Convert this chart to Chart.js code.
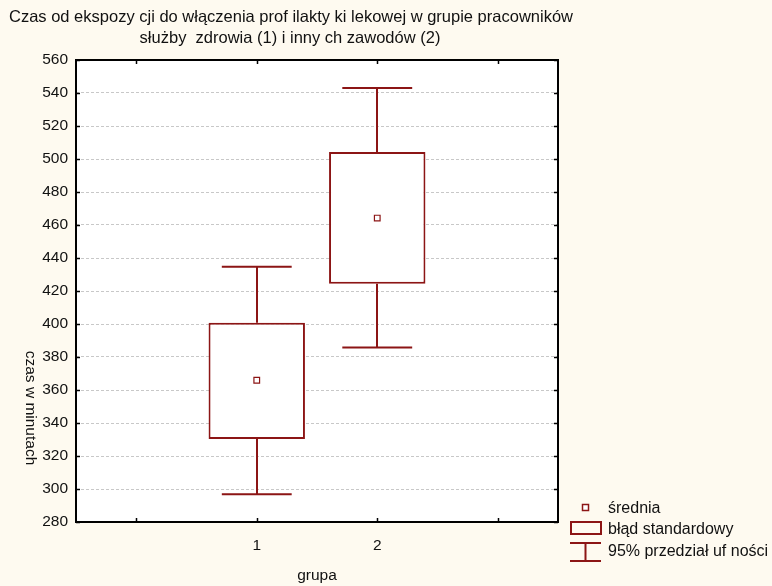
<!DOCTYPE html>
<html><head><meta charset="utf-8">
<script src="https://cdn.jsdelivr.net/npm/chart.js@4/dist/chart.umd.min.js"></script>
<style>html,body{margin:0;padding:0;background:#fefaf0;}#wrap{width:772px;height:586px;}</style>
</head><body><div id="wrap"><canvas id="c" width="772" height="586"></canvas></div>
<script>
const groups = [1, 2];
const means = [365.9, 464.2];
const seLow = [330.3, 424.4];
const seHigh = [400.8, 504.2];
const ciLow = [296.8, 385.8];
const ciHigh = [434.7, 543.0];
const yTicks = [280, 300, 320, 340, 360, 380, 400, 420, 440, 460, 480, 500, 520, 540, 560];
const xTickValues = [0, 1, 2, 3];
const xTickLabels = ['', '1', '2', ''];
const titleLines = ['Czas od ekspozy cji do włączenia prof ilakty ki lekowej w grupie pracowników', 'służby  zdrowia (1) i inny ch zawodów (2)'];
const xTitle = 'grupa';
const yTitle = 'czas w minutach';
const legendLabels = ['średnia', 'błąd standardowy', '95% przedział uf ności'];

const RED = '#8c1515';
const FONT = '"Liberation Sans", Arial, sans-serif';

const custom = {
  id: 'custom',
  beforeDraw(chart) {
    const ctx = chart.ctx, a = chart.chartArea;
    ctx.save();
    ctx.fillStyle = '#fefaf0';
    ctx.fillRect(0, 0, chart.width, chart.height);
    ctx.fillStyle = '#ffffff';
    ctx.fillRect(a.left, a.top, a.right - a.left, a.bottom - a.top);
    ctx.restore();
  },
  beforeDatasetsDraw(chart) {
    const ctx = chart.ctx, xs = chart.scales.x, ys = chart.scales.y;
    ctx.save();
    ctx.strokeStyle = RED;
    ctx.lineWidth = 2;
    const capHalf = 0.29;
    groups.forEach((g, i) => {
      const cx = Math.round(xs.getPixelForValue(g));
      const x0 = xs.getPixelForValue(g - capHalf), x1 = xs.getPixelForValue(g + capHalf);
      const yL = ys.getPixelForValue(ciLow[i]), yH = ys.getPixelForValue(ciHigh[i]);
      const sL = ys.getPixelForValue(seLow[i]), sH = ys.getPixelForValue(seHigh[i]);
      ctx.beginPath();
      ctx.moveTo(cx, yH); ctx.lineTo(cx, sH);
      ctx.moveTo(cx, sL); ctx.lineTo(cx, yL);
      ctx.moveTo(x0, yH); ctx.lineTo(x1, yH);
      ctx.moveTo(x0, yL); ctx.lineTo(x1, yL);
      ctx.stroke();
    });
    ctx.restore();
  },
  afterDraw(chart) {
    const ctx = chart.ctx, a = chart.chartArea, xs = chart.scales.x, ys = chart.scales.y;
    ctx.save();
    ctx.strokeStyle = '#000';
    ctx.lineWidth = 2;
    ctx.strokeRect(a.left, a.top, a.right - a.left, a.bottom - a.top);
    ctx.lineWidth = 1.5;
    ctx.beginPath();
    yTicks.forEach(v => {
      const y = Math.round(ys.getPixelForValue(v)) + 0.5;
      ctx.moveTo(a.left, y); ctx.lineTo(a.left + 4, y);
      ctx.moveTo(a.right, y); ctx.lineTo(a.right - 4, y);
    });
    xTickValues.forEach(v => {
      const x = Math.round(xs.getPixelForValue(v)) + 0.5;
      ctx.moveTo(x, a.top); ctx.lineTo(x, a.top + 4);
      ctx.moveTo(x, a.bottom); ctx.lineTo(x, a.bottom - 4);
    });
    ctx.stroke();
    ctx.fillStyle = '#111';
    ctx.font = '16.5px ' + FONT;
    ctx.textAlign = 'center';
    ctx.textBaseline = 'middle';
    ctx.fillText(titleLines[0], 291, 17);
    ctx.fillText(titleLines[1], 290, 38);
    ctx.font = '15.5px ' + FONT;
    ctx.fillText(xTitle, (a.left + a.right) / 2, 576);
    ctx.save();
    ctx.translate(30, 408);
    ctx.rotate(Math.PI / 2);
    ctx.fillText(yTitle, 0, 0);
    ctx.restore();
    ctx.textAlign = 'left';
    ctx.fillStyle = '#111';
    ctx.font = '16px ' + FONT;
    ctx.fillText(legendLabels[0], 608, 509);
    ctx.fillText(legendLabels[1], 608, 530);
    ctx.fillText(legendLabels[2], 608, 552);
    ctx.strokeStyle = RED;
    ctx.lineWidth = 1.5;
    ctx.fillStyle = '#fff';
    ctx.fillRect(582, 504, 7, 7);
    ctx.strokeRect(582.5, 504.5, 6, 6);
    ctx.lineWidth = 2;
    ctx.strokeRect(571, 522, 30, 12);
    ctx.beginPath();
    ctx.moveTo(570, 543); ctx.lineTo(601, 543);
    ctx.moveTo(570, 561); ctx.lineTo(601, 561);
    ctx.moveTo(585.5, 543); ctx.lineTo(585.5, 561);
    ctx.stroke();
    ctx.restore();
  }
};

new Chart(document.getElementById('c'), {
  type: 'bar',
  data: {
    datasets: [
      {
        type: 'bar',
        label: 'błąd standardowy',
        data: groups.map((g, i) => ({ x: g, y: [seLow[i], seHigh[i]] })),
        backgroundColor: '#ffffff',
        borderColor: RED,
        borderWidth: 2,
        borderSkipped: false,
        barPercentage: 0.8,
        categoryPercentage: 1.0,
        order: 2
      },
      {
        type: 'scatter',
        label: 'średnia',
        data: groups.map((g, i) => ({ x: g, y: means[i] })),
        pointStyle: 'rect',
        pointRadius: 4,
        backgroundColor: '#ffffff',
        borderColor: RED,
        borderWidth: 1.2,
        order: 1
      }
    ]
  },
  options: {
    responsive: false,
    animation: false,
    devicePixelRatio: 1,
    layout: { padding: { top: 60, right: 214, left: 0, bottom: 0 } },
    plugins: { legend: { display: false }, tooltip: { enabled: false }, title: { display: false } },
    scales: {
      x: {
        type: 'linear',
        offset: false,
        min: -0.5, max: 3.5,
        afterBuildTicks: s => { s.ticks = xTickValues.map(v => ({ value: v })); },
        afterFit: s => { s.height = 64; },
        grid: { display: false, drawTicks: false, offset: false },
        border: { display: false },
        ticks: {
          padding: 14,
          color: '#111',
          font: { size: 15.5, family: FONT },
          callback: (v) => xTickLabels[xTickValues.indexOf(v)] ?? ''
        }
      },
      y: {
        type: 'linear',
        min: 280, max: 560,
        afterBuildTicks: s => { s.ticks = yTicks.map(v => ({ value: v })); },
        afterFit: s => { s.width = 76; },
        grid: { color: '#c8c8c8', lineWidth: 1, drawTicks: false },
        border: { display: false, dash: [3, 2] },
        ticks: {
          padding: 8,
          color: '#111',
          font: { size: 15.5, family: FONT }
        }
      }
    }
  },
  plugins: [custom]
});
</script></body></html>
